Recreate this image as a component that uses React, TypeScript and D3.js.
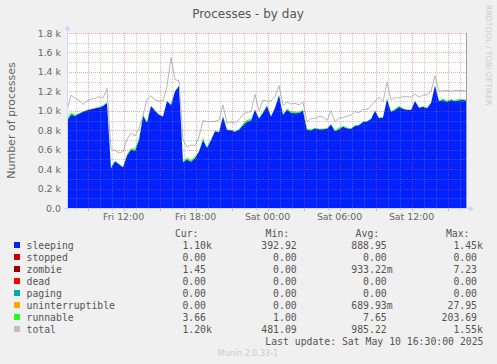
import React, { useEffect, useRef } from 'react';
import * as d3 from 'd3';

// samples every 20 minutes, Fri 07:17 .. Sat 16:37
const startTime = new Date(2025, 4, 9, 7, 17);
const endTime = new Date(2025, 4, 10, 16, 37);
const stepMinutes = 20;

const sleeping = [
  900, 960, 950, 970, 990, 1005, 1015, 1025, 1035, 1050,
  1080, 410, 480, 450, 420, 540, 600, 590, 700, 950,
  880, 1050, 1000, 960, 940, 1100, 1060, 1200, 1255, 470,
  500, 476, 515, 580, 700, 620, 700, 790, 780, 940,
  802, 800, 785, 805, 850, 888, 900, 1010, 920, 980,
  1050, 940, 1030, 1160, 960, 1010, 980, 974, 978, 1000,
  802, 800, 820, 810, 810, 815, 860, 790, 810, 835,
  820, 815, 845, 850, 885, 890, 915, 1000, 922, 930,
  1120, 990, 1008, 1040, 1020, 1008, 1008, 1100, 1030, 1042,
  1025, 1080, 1260, 1100, 1111, 1093, 1110, 1100, 1108, 1110,
  1105,
];

const runnable = [
  18, 22, 8, 5, 4, 6, 7, 4, 6, 7,
  8, 12, 6, 5, 4, 16, 12, 20, 24, 16,
  5, 8, 6, 5, 4, 5, 7, 5, 4, 8,
  20, 16, 12, 8, 20, 6, 5, 8, 5, 6,
  5, 4, 6, 8, 16, 20, 16, 6, 5, 12,
  8, 5, 6, 5, 8, 12, 16, 16, 12, 12,
  16, 8, 6, 5, 8, 6, 5, 12, 16, 12,
  8, 6, 5, 8, 6, 5, 6, 5, 8, 5,
  6, 8, 12, 12, 6, 5, 5, 6, 5, 5,
  8, 6, 5, 8, 12, 12, 8, 12, 12, 8,
  8,
];

const total = [
  1000, 1160, 1130, 1111, 1065, 1100, 1120, 1128, 1145, 1130,
  1230, 610, 590, 565, 580, 705, 770, 740, 820, 950,
  1120, 1155, 1110, 1100, 1100, 1250, 1550, 1320, 1310, 700,
  625, 648, 640, 730, 900, 890, 890, 890, 905, 1059,
  870, 885, 871, 910, 965, 985, 991, 1170, 1000, 1111,
  1100, 1100, 1145, 1260, 1055, 1090, 1070, 1077, 1060, 1090,
  888, 920, 920, 945, 939, 900, 1000, 888, 925, 930,
  945, 957, 991, 980, 1015, 1015, 1050, 1100, 1140, 1095,
  1290, 1115, 1135, 1132, 1145, 1145, 1140, 1170, 1140, 1162,
  1165, 1200, 1360, 1200, 1205, 1210, 1200, 1210, 1205, 1210,
  1200,
];

const yTickValues = [0, 200, 400, 600, 800, 1000, 1200, 1400, 1600, 1800];
const yTickLabels = ['0.0', '0.2 k', '0.4 k', '0.6 k', '0.8 k', '1.0 k', '1.2 k', '1.4 k', '1.6 k', '1.8 k'];

const legendNames = ['sleeping', 'stopped', 'zombie', 'dead', 'paging', 'uninterruptible', 'runnable', 'total'];
const legendColors = ['#0022ff', '#cc0000', '#990000', '#ff0000', '#00aaaa', '#ffa500', '#22ff22', '#c0c0c0'];
const curVals = ['1.10k', '0.00', '1.45', '0.00', '0.00', '0.00', '3.66', '1.20k'];
const minVals = ['392.92', '0.00', '0.00', '0.00', '0.00', '0.00', '1.00', '481.09'];
const avgVals = ['888.95', '0.00', '933.22m', '0.00', '0.00', '689.93m', '7.65', '985.22'];
const maxVals = ['1.45k', '0.00', '7.23', '0.00', '0.00', '27.95', '203.69', '1.55k'];

const W = 497;
const H = 364;

function App() {
  const ref = useRef<SVGSVGElement>(null);

  useEffect(() => {
    const svg = d3.select(ref.current);
    svg.selectAll('*').remove();

    const left = 67, right = 467, top = 33, bottom = 208;
    const sans = 'DejaVu Sans, sans-serif';
    const mono = 'DejaVu Sans Mono, monospace';
    const fontColor = '#666666';
    const axisColor = '#CFD6F8';

    svg.append('rect').attr('width', W).attr('height', H).attr('fill', '#f0f0f0');

    const x = d3.scaleTime().domain([startTime, endTime]).range([left, right]);
    const y = d3.scaleLinear().domain([0, 1800]).range([bottom, top]);

    // canvas
    svg.append('rect')
      .attr('x', left).attr('y', top)
      .attr('width', right - left).attr('height', bottom - top)
      .attr('fill', '#ffffff');

    const rows = sleeping.map((v, i) => ({
      t: d3.timeMinute.offset(startTime, i * stepMinutes),
      sleeping: v,
      runnable: runnable[i],
      total: total[i],
    }));

    const stack = d3.stack<any>().keys(['sleeping', 'runnable']);
    const layers = stack(rows);
    const stackColors = ['#0022ff', '#22ff22'];

    const area = d3.area<any>()
      .x(d => x(d.data.t))
      .y0(d => y(d[0]))
      .y1(d => y(d[1]));

    svg.append('g')
      .selectAll('path')
      .data(layers)
      .enter()
      .append('path')
      .attr('d', d => area(d as any))
      .attr('fill', (d, i) => stackColors[i]);

    const line = d3.line<any>()
      .x(d => x(d.t))
      .y(d => y(d.total));

    svg.append('path')
      .attr('d', line(rows))
      .attr('fill', 'none')
      .attr('stroke', '#b8b8b8')
      .attr('stroke-width', 1);

    // grid on top of data
    const grid = svg.append('g').attr('shape-rendering', 'crispEdges');
    const minorColor = 'rgba(140,140,140,0.45)';
    const majorColor = 'rgba(225,60,60,0.45)';

    d3.range(0, 1801, 100).forEach(v => {
      const major = v % 200 === 0;
      if (v === 0) return;
      grid.append('line')
        .attr('x1', left).attr('x2', right)
        .attr('y1', Math.round(y(v)) + 0.5).attr('y2', Math.round(y(v)) + 0.5)
        .attr('stroke', major ? majorColor : minorColor)
        .attr('stroke-dasharray', '1,1');
    });

    x.ticks(d3.timeHour.every(1) as any).forEach(t => {
      const major = t.getHours() % 3 === 0;
      const px = Math.round(x(t)) + 0.5;
      grid.append('line')
        .attr('x1', px).attr('x2', px)
        .attr('y1', top).attr('y2', bottom)
        .attr('stroke', major ? majorColor : minorColor)
        .attr('stroke-dasharray', '1,1');
      grid.append('line')
        .attr('x1', px).attr('x2', px)
        .attr('y1', bottom).attr('y2', bottom + (major ? 3 : 2))
        .attr('stroke', major ? majorColor : minorColor);
    });

    // right edge line
    svg.append('line')
      .attr('x1', right - 0.5).attr('x2', right - 0.5)
      .attr('y1', top).attr('y2', bottom)
      .attr('stroke', '#a0a0a0');

    // axes
    svg.append('line')
      .attr('x1', left - 3).attr('x2', right + 3)
      .attr('y1', bottom + 0.5).attr('y2', bottom + 0.5)
      .attr('stroke', axisColor);
    svg.append('line')
      .attr('x1', left + 0.5).attr('x2', left + 0.5)
      .attr('y1', bottom + 3).attr('y2', top - 4)
      .attr('stroke', axisColor);
    svg.append('path')
      .attr('d', `M${right + 2},${bottom - 2.5} L${right + 7},${bottom + 0.5} L${right + 2},${bottom + 3.5} Z`)
      .attr('fill', axisColor);
    svg.append('path')
      .attr('d', `M${left - 2.5},${top - 3} L${left + 0.5},${top - 8} L${left + 3.5},${top - 3} Z`)
      .attr('fill', axisColor);

    // y tick labels
    svg.append('g')
      .selectAll('text')
      .data(yTickValues)
      .enter()
      .append('text')
      .attr('x', left - 6)
      .attr('y', d => y(d) + 3.5)
      .attr('text-anchor', 'end')
      .attr('font-family', sans)
      .attr('font-size', 9.4)
      .attr('fill', fontColor)
      .text((d, i) => yTickLabels[i]);

    // x tick labels
    const fmt = d3.timeFormat('%a %H:%M');
    svg.append('g')
      .selectAll('text')
      .data(x.ticks(d3.timeHour.every(6) as any))
      .enter()
      .append('text')
      .attr('x', d => x(d))
      .attr('y', 220)
      .attr('text-anchor', 'middle')
      .attr('font-family', sans)
      .attr('font-size', 9.4)
      .attr('fill', fontColor)
      .text(d => fmt(d));

    // title
    svg.append('text')
      .attr('x', 248).attr('y', 17.5)
      .attr('text-anchor', 'middle')
      .attr('font-family', sans)
      .attr('font-size', 12)
      .attr('fill', '#555555')
      .text('Processes - by day');

    // y label
    svg.append('text')
      .attr('transform', 'translate(15,120.5) rotate(-90)')
      .attr('text-anchor', 'middle')
      .attr('font-family', sans)
      .attr('font-size', 11)
      .attr('fill', fontColor)
      .text('Number of processes');

    // watermark
    svg.append('text')
      .attr('transform', 'translate(486,5) rotate(90)')
      .attr('font-family', sans)
      .attr('font-size', 7.8)
      .attr('fill', '#cccccc')
      .text('RRDTOOL / TOBI OETIKER');

    // legend
    const lg = svg.append('g')
      .attr('font-family', mono)
      .attr('font-size', 9.8)
      .attr('fill', '#555555');

    const colNum = [206, 296.7, 386.7, 477];
    const colHead = ['Cur:', 'Min:', 'Avg:', 'Max:'];
    colHead.forEach((h, i) => {
      lg.append('text')
        .attr('x', colNum[i] - 7.5).attr('y', 237)
        .attr('text-anchor', 'end')
        .text(h);
    });

    const cols = [curVals, minVals, avgVals, maxVals];
    legendNames.forEach((name, r) => {
      const by = 248.5 + r * 12;
      lg.append('rect')
        .attr('x', 14).attr('y', by - 6.5)
        .attr('width', 6).attr('height', 6)
        .attr('fill', legendColors[r]);
      lg.append('text').attr('x', 26.5).attr('y', by).text(name);
      cols.forEach((col, c) => {
        const s = col[r];
        const last = s[s.length - 1];
        const unit = last === 'k' || last === 'm' ? last : '';
        const num = unit ? s.slice(0, -1) : s;
        lg.append('text')
          .attr('x', colNum[c]).attr('y', by)
          .attr('text-anchor', 'end')
          .text(num);
        if (unit) {
          lg.append('text').attr('x', colNum[c]).attr('y', by).text(unit);
        }
      });
    });

    lg.append('text')
      .attr('x', 483.5).attr('y', 248.5 + 8 * 12)
      .attr('text-anchor', 'end')
      .style('white-space', 'pre')
      .text('Last update: Sat May 10 16:30:00 2025');

    svg.append('text')
      .attr('x', 248).attr('y', 356)
      .attr('text-anchor', 'middle')
      .attr('font-family', sans)
      .attr('font-size', 8)
      .attr('fill', '#cccccc')
      .text('Munin 2.0.33-1');
  }, []);

  return (
    <div style={{ position: 'fixed', left: 0, top: 0, width: W, height: H }}>
      <svg ref={ref} width={W} height={H} style={{ display: 'block' }} />
    </div>
  );
}

export default App;
